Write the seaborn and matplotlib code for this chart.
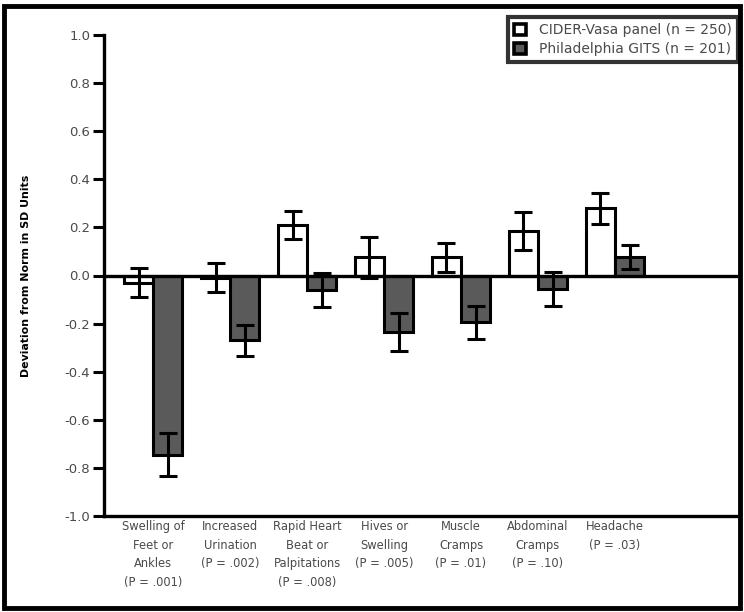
import matplotlib
matplotlib.use("Agg")
import matplotlib.pyplot as plt
import seaborn as sns
import pandas as pd
import numpy as np
from matplotlib.patches import Rectangle, Patch

categories = [
    "Swelling of\nFeet or\nAnkles\n(P = .001)",
    "Increased\nUrination\n(P = .002)",
    "Rapid Heart\nBeat or\nPalpitations\n(P = .008)",
    "Hives or\nSwelling\n(P = .005)",
    "Muscle\nCramps\n(P = .01)",
    "Abdominal\nCramps\n(P = .10)",
    "Headache\n(P = .03)",
]
series_names = ["CIDER-Vasa panel (n = 250)", "Philadelphia GITS (n = 201)"]
vasa_values = [-0.03, -0.01, 0.21, 0.075, 0.075, 0.185, 0.28]
vasa_errors = [0.06, 0.06, 0.06, 0.085, 0.06, 0.08, 0.065]
gits_values = [-0.745, -0.27, -0.06, -0.235, -0.195, -0.055, 0.075]
gits_errors = [0.09, 0.065, 0.07, 0.08, 0.07, 0.07, 0.05]
ytick_values = [1.0, 0.8, 0.6, 0.4, 0.2, 0.0, -0.2, -0.4, -0.6, -0.8, -1.0]
ytick_labels = ["1.0", "0.8", "0.6", "0.4", "0.2", "0.0", "-0.2", "-0.4", "-0.6", "-0.8", "-1.0"]
y_label = "Deviation from Norm in SD Units"

df = pd.DataFrame({
    "symptom": categories * 2,
    "value": vasa_values + gits_values,
    "err": vasa_errors + gits_errors,
    "group": [series_names[0]] * len(categories) + [series_names[1]] * len(categories),
})

sns.set_style("white")
plt.rcParams['font.family'] = ['DejaVu Sans']

W, H = 744, 612
fig = plt.figure(figsize=(W / 100, H / 100), dpi=100)
ax = fig.add_axes([104 / W, 1 - 516 / H, (738 - 104) / W, (516 - 35) / H])

colors = ["white", "#5a5a5a"]
sns.barplot(data=df, x="symptom", y="value", hue="group", palette=colors,
            edgecolor="black", linewidth=2.2, width=0.76, errorbar=None,
            saturation=1, ax=ax, legend=False, zorder=2)

errs = [vasa_errors, gits_errors]
vals = [vasa_values, gits_values]
for cont, e, v in zip(ax.containers, errs, vals):
    xs = [p.get_x() + p.get_width() / 2 for p in cont.patches]
    ax.errorbar(xs, v, yerr=e, fmt="none", ecolor="black", elinewidth=2.2,
                capsize=6.5, capthick=2.2, zorder=4)

ax.axhline(0, color="black", lw=2.4, zorder=3)
ax.set_ylim(-1.0, 1.0)
ax.set_xlim(-0.64, 7.6)
ax.set_yticks(ytick_values)
ax.set_yticklabels(ytick_labels, fontsize=9.5, color="#4a4a4a")
ax.tick_params(axis="y", direction="out", length=8, width=2.2, color="black", pad=2, left=True)
ax.tick_params(axis="x", length=0, pad=3)
ax.set_xticks(range(len(categories)))
ax.set_xticklabels(categories, fontsize=8.3, color="#4a4a4a", linespacing=1.55, va="top")
ax.set_xlabel("")
ax.set_ylabel(y_label, fontsize=7.9, fontweight="bold", color="black", labelpad=24)
for s in ["top", "right"]:
    ax.spines[s].set_visible(False)
for s in ["left", "bottom"]:
    ax.spines[s].set_linewidth(2.4)
    ax.spines[s].set_color("black")

handles = [Patch(facecolor=c, edgecolor="black", linewidth=2.6) for c in colors]
leg = fig.legend(handles, series_names, loc="upper right",
                 bbox_to_anchor=(738 / W, 1 - 17 / H), fontsize=10,
                 frameon=True, fancybox=False, edgecolor="black",
                 handlelength=0.9, handleheight=0.9, handletextpad=0.9,
                 borderpad=0.45, labelspacing=0.35, borderaxespad=0)
leg.get_frame().set_linewidth(3)
for t in leg.get_texts():
    t.set_color("#4a4a4a")

fig.patches.append(Rectangle((4 / W, 4 / H), 736 / W, 602 / H, transform=fig.transFigure,
                             fill=False, edgecolor="black", linewidth=3.5, zorder=10))

fig.savefig("out.png", dpi=100)
